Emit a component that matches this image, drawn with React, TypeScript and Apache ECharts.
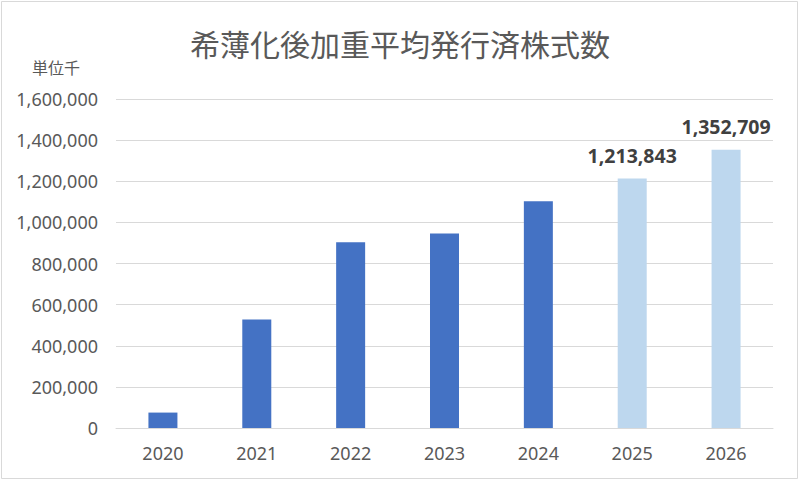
import React, { useEffect, useRef } from "react";
import * as echarts from "echarts";

const categories = ["2020", "2021", "2022", "2023", "2024", "2025", "2026"];
const values = [75000, 528000, 903000, 946000, 1103000, 1213843, 1352709];
const isForecast = [false, false, false, false, false, true, true];
const titleText = "希薄化後加重平均発行済株式数";
const unitText = "単位千";

const DARK = "#4472C4";
const LIGHT = "#BDD7EE";

export default function App() {
  const ref = useRef<HTMLDivElement>(null);
  useEffect(() => {
    document.body.style.margin = "0";
    const chart = echarts.init(ref.current!, null, { renderer: "svg" });
    const numFont = "'Noto Sans', 'Open Sans', sans-serif";
    chart.setOption({
      animation: false,
      backgroundColor: "#ffffff",
      title: {
        text: titleText,
        left: "center",
        top: 23,
        textStyle: {
          fontFamily: "'Noto Sans CJK JP', sans-serif",
          fontSize: 30,
          fontWeight: "normal",
          color: "#595959",
        },
      },
      graphic: [
        {
          type: "rect",
          shape: { x: 1.5, y: 1.5, width: 796, height: 477 },
          style: { fill: "none", stroke: "#D9D9D9", lineWidth: 1 },
          silent: true,
        },
        {
          type: "text",
          left: 32,
          top: 59,
          style: {
            text: unitText,
            font: "16px 'Noto Sans CJK JP', sans-serif",
            fill: "#595959",
          },
        },
      ],
      grid: { left: 116, right: 27, top: 99, bottom: 55, containLabel: false },
      xAxis: {
        type: "category",
        data: categories,
        axisLine: { lineStyle: { color: "#D9D9D9" } },
        axisTick: { show: false },
        axisLabel: {
          color: "#595959",
          fontSize: 18,
          fontFamily: numFont,
          margin: 16,
        },
      },
      yAxis: {
        type: "value",
        min: 0,
        max: 1600000,
        interval: 200000,
        axisLine: { show: false },
        axisTick: { show: false },
        splitLine: { lineStyle: { color: "#D9D9D9", width: 1 } },
        axisLabel: {
          color: "#595959",
          fontSize: 18,
          fontFamily: numFont,
          margin: 18,
          formatter: (v: number) => v.toLocaleString("en-US"),
        },
      },
      series: [
        {
          type: "bar",
          barWidth: 29,
          data: values.map((v, i) => ({
            value: v,
            itemStyle: { color: isForecast[i] ? LIGHT : DARK },
            label: {
              show: isForecast[i],
              position: "top",
              distance: 13,
              formatter: (p: any) => Number(p.value).toLocaleString("en-US"),
              fontSize: 19.5,
              fontWeight: "bold",
              fontFamily: numFont,
              color: "#404040",
            },
          })),
        },
      ],
    });
    return () => chart.dispose();
  }, []);
  return <div ref={ref} style={{ width: 800, height: 483 }} />;
}
